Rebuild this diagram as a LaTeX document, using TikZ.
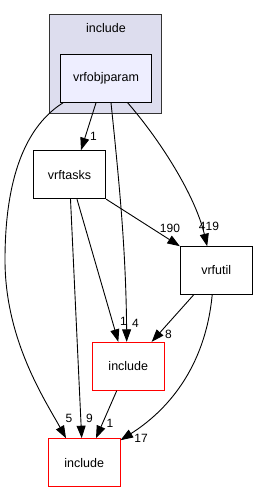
\documentclass[tikz,border=0pt]{standalone}
\usepackage{fontspec}
\setmainfont{Liberation Sans}
\usetikzlibrary{arrows.meta}
\definecolor{clfill}{HTML}{DDDDEE}
\definecolor{objfill}{HTML}{EEEEFF}
\tikzset{
  dirbox/.style={draw=black, line width=1pt, minimum width=72pt, minimum height=48pt, inner sep=0pt, font=\fontsize{12.5}{14}\selectfont},
  redbox/.style={dirbox, draw=red},
  edge/.style={line width=0.9pt, -{Triangle[length=12.5pt,width=9pt]}},
  elabel/.style={inner sep=0pt, font=\fontsize{12}{14}\selectfont}
}
\begin{document}
\begin{tikzpicture}[x=1pt,y=-1pt]
\useasboundingbox (0,0) rectangle (258,492);
% cluster
\node[draw=black!80, fill=clfill, line width=1pt, minimum width=112.4pt, minimum height=98.3pt, inner sep=0pt] (cl) at (105.5,64.15) {};
\node[font=\fontsize{12.5}{14}\selectfont, inner sep=0pt] (cllabel) at (106,28.5) {include};
% nodes
\node[dirbox, fill=objfill, minimum width=91.4pt] (obj) at (106,78.3) {vrfobjparam};
\node[dirbox, fill=white, minimum width=72.4pt] (tasks) at (69.5,174.7) {vrftasks};
\node[dirbox, fill=white, minimum width=71.7pt, minimum height=47.6pt] (util) at (216.2,270.5) {vrfutil};
\node[redbox, fill=white] (incM) at (128.3,366.3) {include};
\node[redbox, fill=white, minimum width=71.7pt] (incB) at (84.2,462.7) {include};
% edges
\draw[edge] ([xshift=-10pt]obj.south) -- ([xshift=11.5pt]tasks.north);
\node[elabel] (l1) at (93.5,136) {1};
\draw[edge] ([xshift=-43pt]obj.south) .. controls (20,130) and (5,190) .. (5,260) .. controls (5,340) and (45,400) .. ([xshift=-18.2pt]incB.north);
\node[elabel] (l5) at (69,418) {5};
\draw[edge] ([xshift=5pt]obj.south) .. controls (119,180) and (126,250) .. ([xshift=-1.6pt]incM.north);
\node[elabel] (l4) at (135.5,323.5) {4};
\draw[edge] ([xshift=21.7pt]obj.south) .. controls (160,140) and (195,195) .. ([xshift=-9pt]util.north);
\node[elabel] (l419) at (209,226.5) {419};
\draw[edge] (tasks.south east) -- (util.north west);
\node[elabel] (l190) at (170,228) {190};
\draw[edge] ([xshift=7.5pt]tasks.south) -- ([xshift=-10pt]incM.north);
\node[elabel] (l1b) at (123.5,321.7) {1};
\draw[edge] ([xshift=1pt]tasks.south) -- ([xshift=-2.5pt]incB.north);
\node[elabel] (l9) at (89.5,418.3) {9};
\draw[edge] ([xshift=-22.5pt]util.south) -- ([xshift=23.4pt]incM.north);
\node[elabel] (l8) at (168.5,334.3) {8};
\draw[edge] ([xshift=-4pt]util.south) .. controls (205,370) and (165,412) .. ([yshift=-2pt]incB.north east);
\node[elabel] (l17) at (141,438.3) {17};
\draw[edge] ([xshift=-11.6pt]incM.south) -- ([xshift=11.8pt]incB.north);
\node[elabel] (l1c) at (110,423.5) {1};
\end{tikzpicture}
\end{document}
